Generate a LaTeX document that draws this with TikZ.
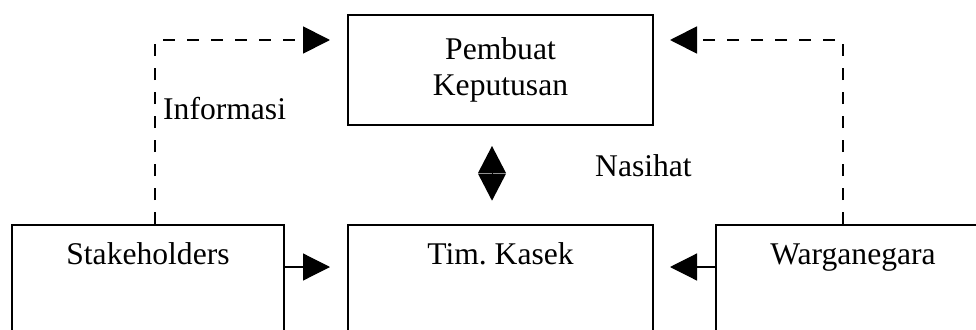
\documentclass[tikz,border=0pt]{standalone}
\usepackage{fontspec}
\setmainfont{Liberation Serif}
\usetikzlibrary{arrows.meta}
\newcommand\dfont{\fontsize{31.6pt}{36.3pt}\selectfont\frenchspacing}
\tikzset{
  box/.style={draw, line width=2pt, inner sep=0pt, font=\dfont, anchor=north west},
  toptext/.style={text height=39pt, text depth=71pt},
  lbl/.style={inner sep=0pt, font=\dfont, anchor=base west},
  dashln/.style={line width=1.8pt, dash pattern=on 12pt off 12pt,
    -{Triangle[length=27pt,width=27pt]}},
  solidln/.style={line width=1.2pt, -{Triangle[length=27pt,width=27pt]}},
  dblln/.style={line width=1pt,
    {Triangle[length=27pt,width=28pt,line width=0pt]}-{Triangle[length=27pt,width=28pt,line width=0pt]}}
}
\begin{document}
\begin{tikzpicture}[x=1pt,y=-1pt]
\path[use as bounding box, clip] (0,0) rectangle (976,329);
\fill[white] (0,0) rectangle (976,329);
% boxes
\node[box, minimum width=305pt, minimum height=110pt, align=center] (pk) at (347,14) {Pembuat\\Keputusan};
\node[box, toptext, minimum width=305pt] (tk) at (347,224) {Tim. Kasek};
\node[box, toptext, minimum width=272pt] (stk) at (11,224) {Stakeholders};
\node[box, toptext, minimum width=274pt] (wn) at (715,224) {Warganegara};
% labels
\node[lbl] (inf) at (163,119) {Informasi};
\node[lbl] (nas) at (595,176.7) {Nasihat};
% dashed connectors
\draw[dashln, shorten >=17pt] ([xshift=144pt]stk.north west) |- ([yshift=-26pt]pk.north west);
\draw[dashln, shorten >=16pt] ([xshift=128pt]wn.north west) |- ([yshift=-26pt]pk.north east);
% solid connectors
\draw[solidln, shorten >=17pt] ([yshift=-43pt]stk.north east) -- ([yshift=-43pt]tk.north west);
\draw[solidln, shorten >=16pt] ([yshift=-43pt]wn.north west) -- ([yshift=-43pt]tk.north east);
% double arrow
\draw[dblln, shorten <=20pt, shorten >=23.3pt] ([xshift=-8.5pt]pk.south) -- ([xshift=-8.5pt]tk.north);
\end{tikzpicture}
\end{document}
